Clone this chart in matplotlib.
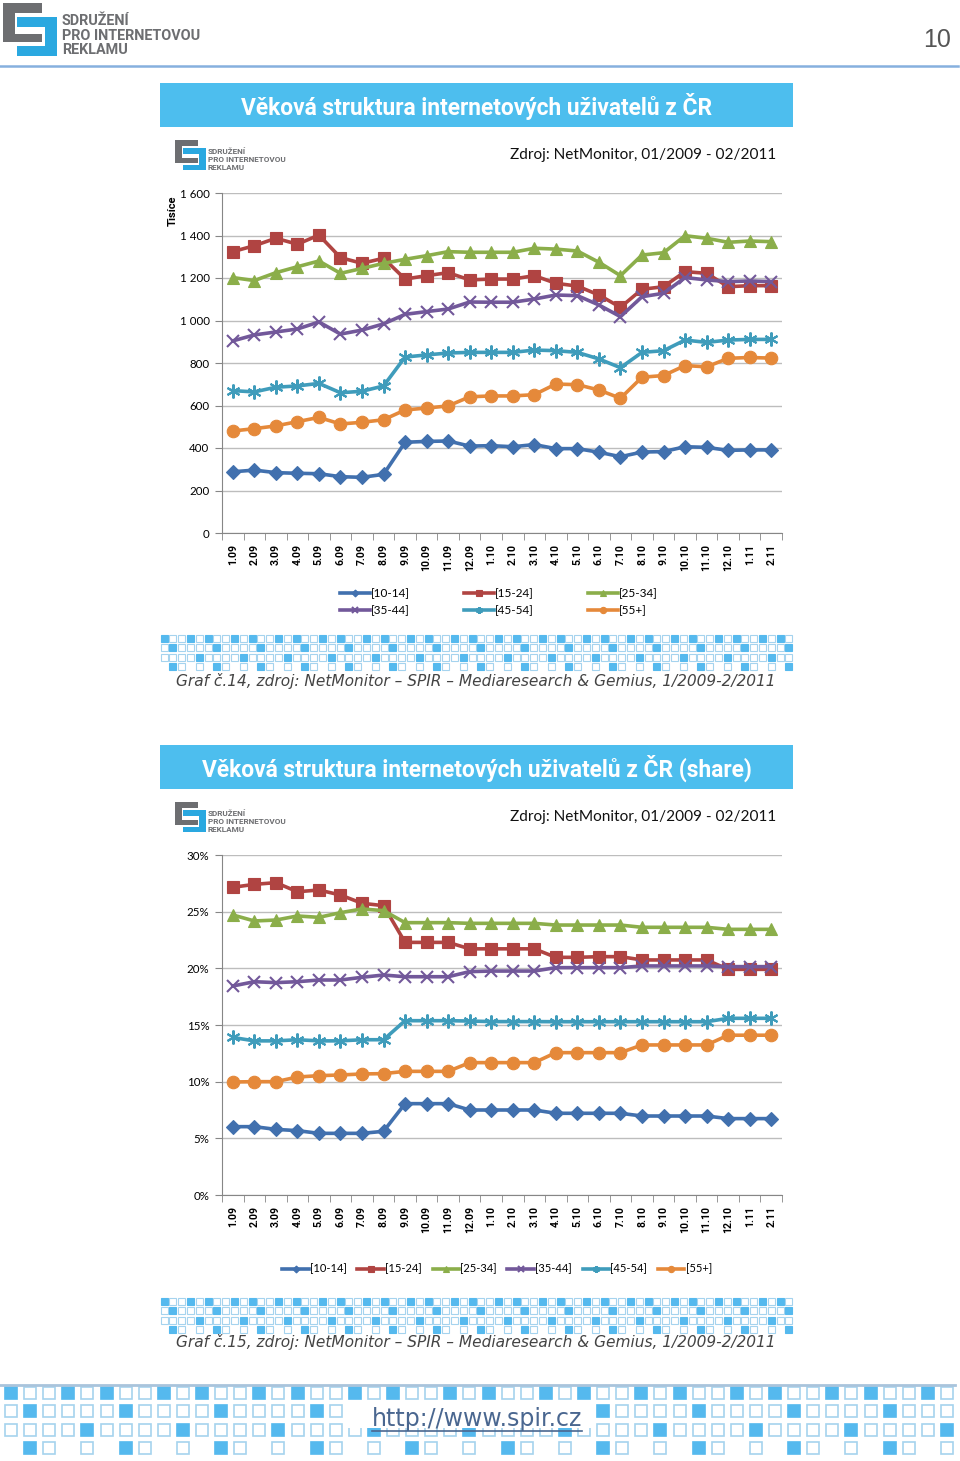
import matplotlib
matplotlib.use('Agg')
import matplotlib.pyplot as plt
from matplotlib.patches import Rectangle
from matplotlib.ticker import FuncFormatter, FixedLocator

# --- data ---
months = ['1.09', '2.09', '3.09', '4.09', '5.09', '6.09', '7.09', '8.09', '9.09', '10.09', '11.09', '12.09',
          '1.10', '2.10', '3.10', '4.10', '5.10', '6.10', '7.10', '8.10', '9.10', '10.10', '11.10', '12.10',
          '1.11', '2.11']
groups = ['[10-14]', '[15-24]', '[25-34]', '[35-44]', '[45-54]', '[55+]']

# thousands of users
abs_10_14 = [288, 296, 284, 281, 279, 265, 262, 276, 427, 431, 433, 409,
             411, 406, 416, 397, 397, 380, 359, 381, 383, 406, 403, 389, 391, 391]
abs_15_24 = [1324, 1352, 1387, 1359, 1402, 1296, 1269, 1293, 1195, 1211, 1225, 1191,
             1195, 1195, 1211, 1175, 1162, 1120, 1062, 1147, 1159, 1230, 1222, 1159, 1164, 1164]
abs_25_34 = [1202, 1188, 1225, 1253, 1280, 1222, 1245, 1269, 1288, 1305, 1324, 1321,
             1321, 1321, 1340, 1336, 1327, 1274, 1211, 1308, 1319, 1399, 1387, 1368, 1374, 1371]
abs_35_44 = [904, 932, 946, 960, 993, 936, 955, 984, 1029, 1042, 1054, 1087,
             1086, 1086, 1101, 1120, 1117, 1073, 1018, 1112, 1128, 1202, 1191, 1183, 1186, 1183]
abs_45_54 = [670, 664, 686, 692, 704, 660, 667, 692, 828, 838, 847, 850,
             850, 850, 861, 858, 850, 819, 778, 850, 858, 908, 897, 908, 911, 911]
abs_55p = [480, 491, 504, 524, 544, 513, 521, 533, 579, 588, 598, 641,
           645, 645, 651, 701, 698, 673, 634, 733, 741, 788, 782, 822, 826, 823]

# share in %
sh_10_14 = [6.03, 6.03, 5.79, 5.68, 5.44, 5.44, 5.44, 5.62, 8.06, 8.06, 8.06, 7.5,
            7.5, 7.5, 7.5, 7.21, 7.21, 7.21, 7.21, 6.97, 6.97, 6.97, 6.97, 6.74, 6.74, 6.74]
sh_15_24 = [27.15, 27.41, 27.56, 26.76, 26.91, 26.47, 25.74, 25.53, 22.29, 22.29, 22.29, 21.72,
            21.72, 21.72, 21.72, 20.97, 20.97, 21.03, 21.03, 20.74, 20.74, 20.74, 20.74, 19.91, 19.91, 19.91]
sh_25_34 = [24.71, 24.18, 24.26, 24.62, 24.5, 24.91, 25.24, 25.09, 24.03, 24.03, 24.03, 23.97,
            23.97, 23.97, 23.97, 23.82, 23.82, 23.82, 23.82, 23.62, 23.62, 23.62, 23.62, 23.44, 23.44, 23.44]
sh_35_44 = [18.44, 18.82, 18.74, 18.82, 18.97, 18.97, 19.21, 19.41, 19.26, 19.26, 19.26, 19.71,
            19.76, 19.76, 19.76, 20.06, 20.06, 20.06, 20.06, 20.21, 20.21, 20.21, 20.21, 20.15, 20.15, 20.15]
sh_45_54 = [13.9, 13.6, 13.6, 13.7, 13.6, 13.6, 13.7, 13.7, 15.38, 15.38, 15.38, 15.35,
            15.3, 15.3, 15.3, 15.29, 15.29, 15.29, 15.29, 15.29, 15.29, 15.29, 15.29, 15.59, 15.59, 15.59]
sh_55p = [9.97, 10.0, 10.0, 10.41, 10.53, 10.59, 10.68, 10.71, 10.91, 10.91, 10.91, 11.68,
          11.68, 11.68, 11.68, 12.56, 12.56, 12.56, 12.56, 13.24, 13.24, 13.24, 13.24, 14.1, 14.1, 14.1]

abs_series = [abs_10_14, abs_15_24, abs_25_34, abs_35_44, abs_45_54, abs_55p]
sh_series = [sh_10_14, sh_15_24, sh_25_34, sh_35_44, sh_45_54, sh_55p]

# --- styles ---
colors = ['#4170AE', '#B04442', '#8BAE4A', '#72589A', '#3F9CBB', '#E5893A']
markers = ['D', 's', '^', 'x', (6, 2, 0), 'o']
msizes = [7, 8, 9, 8, 10, 9]

W, H = 960, 1461
plt.rcParams['font.family'] = ['Lato', 'DejaVu Sans']
fig = plt.figure(figsize=(W / 100, H / 100), dpi=100)

bg = fig.add_axes([0, 0, 1, 1])
bg.set_xlim(0, W)
bg.set_ylim(H, 0)
bg.axis('off')

GRAY = '#6D6E71'
SPIR_BLUE = '#2AA8E0'
BOX_BLUE = '#4DBEEE'
SQ_FILL = '#55B9EE'
SQ_EDGE = '#A5D3EE'
BOLD = ['Roboto', 'DejaVu Sans']


def rect(x, y, w, h, **kw):
    bg.add_patch(Rectangle((x, y), w, h, **kw))


def logo(x0, y0, s):
    k = s / 55.0
    for (x, y, w, h) in [(0, 0, 40, 10), (0, 0, 12, 40), (0, 32, 40, 8)]:
        rect(x0 + x * k, y0 + y * k, w * k, h * k, color=GRAY, lw=0)
    for (x, y, w, h) in [(14, 14, 41, 10), (43, 14, 12, 40), (14, 44, 41, 10)]:
        rect(x0 + x * k, y0 + y * k, w * k, h * k, color=SPIR_BLUE, lw=0)


def band(x0, y0, n, pitch, dy, size, lw):
    for r in range(4):
        for i in range(n):
            m = i % 5
            if r == 0:
                kind = 'f' if m in (0, 3) else 'e'
            elif r == 1:
                kind = 'f' if m == 1 else 'e'
            elif r == 2:
                kind = 'f' if m == 4 else 'e'
            else:
                kind = 'f' if m == 1 else ('e' if m in (2, 4) else None)
            if kind is None:
                continue
            cx = x0 + i * pitch
            cy = y0 + r * dy
            if kind == 'f':
                rect(cx - size / 2, cy - size / 2, size, size, facecolor=SQ_FILL, edgecolor=SQ_FILL, lw=lw)
            else:
                rect(cx - size / 2, cy - size / 2, size, size, facecolor='white', edgecolor=SQ_EDGE, lw=lw)


# --- page header ---
logo(3, 3, 54)
for txt, yy in [('SDRUŽENÍ', 21), ('PRO INTERNETOVOU', 36), ('REKLAMU', 50)]:
    bg.text(62, yy, txt, family=BOLD, fontsize=10.4, fontweight='bold', color=GRAY, va='center', ha='left')
bg.text(951, 40, '10', family=['Liberation Sans', 'DejaVu Sans'], fontsize=18, color='#555555',
        ha='right', va='center')
bg.plot([0, 958], [66, 66], color='#86B0DE', lw=1.8)


def chart_frame(top, title):
    rect(160, top, 633, 44, color=BOX_BLUE, lw=0)
    bg.text(477, top + 23, title, family=BOLD, fontweight='bold', color='white', fontsize=16.4,
            ha='center', va='center')
    logo(175, top + 57, 31)
    for txt, dd in [('SDRUŽENÍ', 68), ('PRO INTERNETOVOU', 76), ('REKLAMU', 85)]:
        bg.text(208, top + dd, txt, family=BOLD, fontsize=5.9, fontweight='bold', color=GRAY,
                va='center', ha='left')
    bg.text(776, top + 72, 'Zdroj: NetMonitor, 01/2009 - 02/2011', fontsize=11.1, color='#111111',
            ha='right', va='center')


chart_frame(83, 'Věková struktura internetových uživatelů z ČR')
chart_frame(745, 'Věková struktura internetových uživatelů z ČR (share)')

band(164, 638, 72, 8.8, 9.6, 7, 0.8)
band(164, 1301, 72, 8.8, 9.6, 7, 0.8)
for yy, num in [(681, '14'), (1342, '15')]:
    bg.text(476, yy, f'Graf č.{num}, zdroj: NetMonitor – SPIR – Mediaresearch & Gemius, 1/2009-2/2011',
            family='DejaVu Sans', style='italic', fontsize=11.05, color='#444444', ha='center', va='center')
bg.text(173, 211, 'Tisíce', family=BOLD, rotation=90, fontsize=8, fontweight='bold', ha='center', va='center')

# --- footer ---
bg.plot([0, 955], [1385, 1385], color='#A9C4DC', lw=2)
band(11, 1393, 50, 19.1, 18.4, 12, 1.2)
rect(345, 1402, 250, 26, color='white', lw=0)
bg.text(477, 1419, 'http://www.spir.cz', family='DejaVu Sans', fontsize=17, color='#4A6790',
        ha='center', va='center')
bg.plot([372, 582], [1431, 1431], color='#4A6790', lw=1.2)


# --- charts ---
def make_axes(top_px):
    ax = fig.add_axes([222 / W, 1 - (top_px + 340) / H, 560 / W, 340 / H])
    ax.set_xlim(-0.5, len(months) - 0.5)
    ax.set_xticks(range(len(months)))
    ax.set_xticklabels(months, rotation=90, fontsize=7.6, fontweight='bold', family=BOLD)
    ax.xaxis.set_minor_locator(FixedLocator([i - 0.5 for i in range(len(months) + 1)]))
    ax.tick_params(axis='x', which='major', length=0, pad=8)
    ax.tick_params(axis='x', which='minor', length=5, color='#868686', direction='out')
    ax.tick_params(axis='y', length=5, color='#868686', labelsize=8.3, pad=4)
    for side in ('top', 'right'):
        ax.spines[side].set_visible(False)
    for side in ('left', 'bottom'):
        ax.spines[side].set_color('#868686')
    ax.grid(axis='y', color='#BDBDBD', lw=1)
    ax.set_axisbelow(True)
    return ax


def draw_series(ax, series):
    lines = []
    for vals, c, m, ms, lab in zip(series, colors, markers, msizes, groups):
        ln, = ax.plot(range(len(months)), vals, color=c, lw=2.6, marker=m, ms=ms,
                      mew=1.5 if m in ('x', (6, 2, 0)) else 0.8, mec=c, mfc=c, label=lab, zorder=3)
        lines.append(ln)
    return lines


ax1 = make_axes(193)
ax1.set_ylim(0, 1600)
ax1.set_yticks(range(0, 1601, 200))
ax1.yaxis.set_major_formatter(FuncFormatter(lambda v, p: f'{int(v):,}'.replace(',', ' ')))
l1 = draw_series(ax1, abs_series)
order = [0, 3, 1, 4, 2, 5]
ax1.legend([l1[i] for i in order], [groups[i] for i in order], ncol=3, loc='center',
           bbox_to_anchor=(499 / W, 1 - 602 / H), bbox_transform=fig.transFigure, frameon=False,
           fontsize=8.5, handlelength=2.5, columnspacing=4.6, markerscale=0.5, handletextpad=0.1,
           labelspacing=0.45)

ax2 = make_axes(855)
ax2.set_ylim(0, 30)
ax2.set_yticks(range(0, 31, 5))
ax2.yaxis.set_major_formatter(FuncFormatter(lambda v, p: f'{int(v)}%'))
l2 = draw_series(ax2, sh_series)
ax2.legend(l2, groups, ncol=6, loc='center', bbox_to_anchor=(497 / W, 1 - 1269 / H),
           bbox_transform=fig.transFigure, frameon=False, fontsize=8, handlelength=2.4,
           columnspacing=0.95, markerscale=0.5, handletextpad=0.1)

fig.savefig('out.png', dpi=100)
